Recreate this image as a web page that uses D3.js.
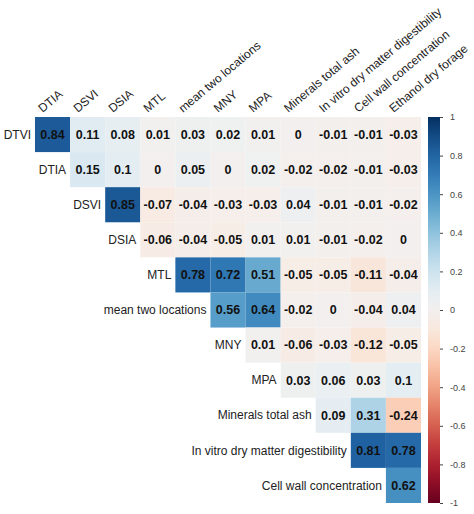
<!DOCTYPE html>
<html><head><meta charset="utf-8">
<script src="https://cdn.jsdelivr.net/npm/d3@7"></script>
<style>body{margin:0;background:#fff}text{font-family:"Liberation Sans",Arial,sans-serif}</style>
</head><body><svg width="474" height="514"></svg>
<script>
const rowNames = ["DTVI","DTIA","DSVI","DSIA","MTL","mean two locations","MNY","MPA","Minerals total ash","In vitro dry matter digestibility","Cell wall concentration"]
const colNames = ["DTIA","DSVI","DSIA","MTL","mean two locations","MNY","MPA","Minerals total ash","In vitro dry matter digestibility","Cell wall concentration","Ethanol dry forage"]
// row i starts at column i
const values = [
  [0.84,0.11,0.08,0.01,0.03,0.02,0.01,0,-0.01,-0.01,-0.03],
  [0.15,0.1,0,0.05,0,0.02,-0.02,-0.02,-0.01,-0.03],
  [0.85,-0.07,-0.04,-0.03,-0.03,0.04,-0.01,-0.01,-0.02],
  [-0.06,-0.04,-0.05,0.01,0.01,-0.01,-0.02,0],
  [0.78,0.72,0.51,-0.05,-0.05,-0.11,-0.04],
  [0.56,0.64,-0.02,0,-0.04,0.04],
  [0.01,-0.06,-0.03,-0.12,-0.05],
  [0.03,0.06,0.03,0.1],
  [0.09,0.31,-0.24],
  [0.81,0.78],
  [0.62]
]
const legendTicks = [1,0.8,0.6,0.4,0.2,0,-0.2,-0.4,-0.6,-0.8,-1]

const svg = d3.select("svg")
const x = d3.scaleBand().domain(colNames).range([35, 421])
const y = d3.scaleBand().domain(rowNames).range([117, 503])
const color = v => d3.interpolateRdBu((v + 1) / 2)

const cells = []
values.forEach((row, i) => row.forEach((v, j) => cells.push({r: rowNames[i], c: colNames[i + j], v})))

svg.selectAll("rect.cell").data(cells).join("rect")
    .attr("class", "cell")
    .attr("x", d => x(d.c)).attr("y", d => y(d.r))
    .attr("width", x.bandwidth()).attr("height", y.bandwidth())
    .attr("fill", d => color(d.v))

svg.selectAll("text.val").data(cells).join("text")
    .attr("class", "val")
    .attr("x", d => x(d.c) + x.bandwidth() / 2)
    .attr("y", d => y(d.r) + y.bandwidth() / 2)
    .attr("dy", "0.35em").attr("text-anchor", "middle")
    .attr("font-size", 12.5).attr("font-weight", "bold").attr("fill", "#111")
    .text(d => d.v)

// row labels, left of first cell in each row
svg.selectAll("text.rl").data(rowNames).join("text")
    .attr("class", "rl")
    .attr("x", (d, i) => x(colNames[i]) - 4)
    .attr("y", d => y(d) + y.bandwidth() / 2)
    .attr("dy", "0.35em").attr("text-anchor", "end")
    .attr("font-size", 12).attr("fill", "#222")
    .text(d => d)

// column labels rotated
svg.selectAll("text.cl").data(colNames).join("text")
    .attr("class", "cl")
    .attr("transform", d => `translate(${x(d) + x.bandwidth() / 2 - 10},${y.range()[0] - 4}) rotate(-40)`)
    .attr("font-size", 12).attr("fill", "#222")
    .text(d => d)

// colour legend
const ly = d3.scaleLinear().domain([1, -1]).range([117, 503])
const grad = svg.append("defs").append("linearGradient").attr("id", "g")
    .attr("x1", 0).attr("y1", 0).attr("x2", 0).attr("y2", 1)
d3.range(0, 1.0001, 0.05).forEach(t => grad.append("stop")
    .attr("offset", t).attr("stop-color", color(1 - 2 * t)))
svg.append("rect").attr("x", 428).attr("y", 117).attr("width", 12).attr("height", 386)
    .attr("fill", "url(#g)")
svg.append("g").attr("transform", "translate(440,0)")
    .call(d3.axisRight(ly).tickValues(legendTicks).tickSize(3).tickFormat(d => d))
    .call(g => g.select(".domain").remove())
    .call(g => g.selectAll("text").attr("font-size", 9).attr("fill", "#444").attr("x", 10))
    .call(g => g.selectAll("line").attr("stroke", "#444"))
</script></body></html>
